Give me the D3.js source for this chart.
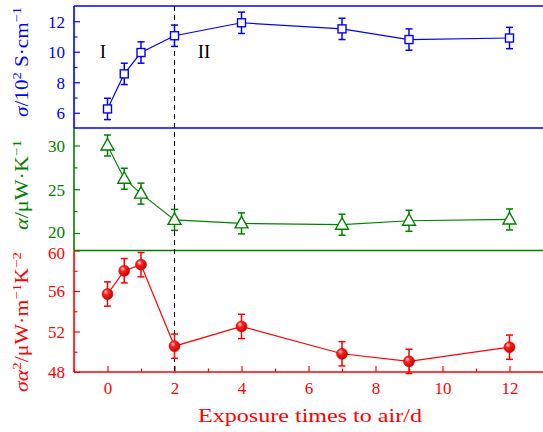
<!DOCTYPE html>
<html><head><meta charset="utf-8">
<script src="https://cdn.jsdelivr.net/npm/d3@7"></script>
<style>body{margin:0;background:#fff}svg{display:block}text{font-family:"Liberation Serif","DejaVu Serif",serif}</style>
</head><body>
<svg id="c" width="543" height="432"></svg>
<script>
const days = [0, 0.5, 1, 2, 4, 7, 9, 12];
const sigma = [6.25, 8.55, 9.95, 11.05, 11.9, 11.5, 10.8, 10.9];
const sigmaErr = [0.7, 0.7, 0.7, 0.7, 0.7, 0.7, 0.7, 0.7];
const alpha = [30.0, 26.2, 24.5, 21.5, 21.1, 20.95, 21.4, 21.55];
const alphaErr = [1.2, 1.2, 1.2, 1.2, 1.2, 1.2, 1.2, 1.2];
const pf = [55.7, 58.0, 58.6, 50.55, 52.5, 49.8, 49.05, 50.45];
const pfErr = [1.2, 1.2, 1.2, 1.2, 1.2, 1.2, 1.2, 1.2];
const xTicks = [0, 2, 4, 6, 8, 10, 12];
const sigmaTicks = [6, 8, 10, 12];
const alphaTicks = [20, 25, 30];
const pfTicks = [48, 52, 56, 60];

const svg = d3.select("#c");
const L = 74, R = 543;
const x = d3.scaleLinear().domain([-1, 13]).range([L, R]);
const yS = d3.scaleLinear().domain([5, 13]).range([128, 6]);
const yA = d3.scaleLinear().domain([18, 32]).range([250.5, 128]);
const yP = d3.scaleLinear().domain([48, 60]).range([372, 250.5]);
const BLUE = "#0000ff", GREEN = "#008000", RED = "#ff0000";

const defs = svg.append("defs");
const g = defs.append("radialGradient").attr("id","ball").attr("cx","0.4").attr("cy","0.4").attr("r","0.65").attr("fx","0.35").attr("fy","0.3");
g.append("stop").attr("offset","0").attr("stop-color","#ffe0e0");
g.append("stop").attr("offset","0.35").attr("stop-color","#ff2020");
g.append("stop").attr("offset","1").attr("stop-color","#c00000");

function leftAxis(y, ticks, minors, color, top, bottom) {
  const ax = svg.append("g").attr("transform", `translate(${L},0)`)
    .call(d3.axisRight(y).tickValues(ticks).tickSize(6).tickFormat(d3.format("d")));
  ax.select(".domain").remove();
  ax.selectAll("line").attr("stroke", color).attr("stroke-width", 1.2);
  ax.selectAll("text").attr("x", -9).attr("text-anchor", "end").attr("fill", color)
    .attr("font-size", 17).attr("dy", "0.35em");
  const mx = svg.append("g").attr("transform", `translate(${L},0)`)
    .call(d3.axisRight(y).tickValues(minors).tickSize(3.5).tickFormat(""));
  mx.select(".domain").remove();
  mx.selectAll("line").attr("stroke", color).attr("stroke-width", 1.2);
  svg.append("line").attr("x1", L).attr("x2", L).attr("y1", top).attr("y2", bottom)
    .attr("stroke", color).attr("stroke-width", 1.6);
  return ax;
}

leftAxis(yS, sigmaTicks, [7, 9, 11], BLUE, 6, 128);
const axA = leftAxis(yA, alphaTicks, [22.5, 27.5], GREEN, 128, 250.5);
const axP = leftAxis(yP, pfTicks, [50, 54, 58], RED, 250.5, 372);
axA.selectAll("text").filter(d => d === 20).attr("dy", "0.25em");
axP.selectAll("text").filter(d => d === 60).attr("dy", "0.45em");
svg.append("line").attr("x1", L).attr("x2", R).attr("y1", 6).attr("y2", 6).attr("stroke", BLUE).attr("stroke-width", 1.6);
svg.append("line").attr("x1", L).attr("x2", R).attr("y1", 128).attr("y2", 128).attr("stroke", BLUE).attr("stroke-width", 1.6);
svg.append("line").attr("x1", L).attr("x2", R).attr("y1", 250.5).attr("y2", 250.5).attr("stroke", GREEN).attr("stroke-width", 1.6);

const xa = svg.append("g").attr("transform", "translate(0,372)")
  .call(d3.axisTop(x).tickValues(xTicks).tickSize(6).tickFormat(d3.format("d")));
xa.select(".domain").remove();
xa.selectAll("line").attr("stroke", RED).attr("stroke-width", 1.2);
xa.selectAll("text").attr("y", 22).attr("fill", RED).attr("font-size", 17).attr("dy", 0);
const xm = svg.append("g").attr("transform", "translate(0,372)")
  .call(d3.axisTop(x).tickValues([-1, 1, 3, 5, 7, 9, 11]).tickSize(3.5).tickFormat(""));
xm.select(".domain").remove();
xm.selectAll("line").attr("stroke", RED).attr("stroke-width", 1.2);
svg.append("line").attr("x1", L).attr("x2", R).attr("y1", 372).attr("y2", 372).attr("stroke", RED).attr("stroke-width", 1.6);

svg.append("line").attr("x1", x(2)).attr("x2", x(2)).attr("y1", 6).attr("y2", 372)
  .attr("stroke", "#000").attr("stroke-width", 1.1).attr("stroke-dasharray", "5,4");

svg.append("text").attr("x", 103).attr("y", 58).attr("text-anchor", "middle").attr("font-size", 19).text("I");
svg.append("text").attr("x", 204).attr("y", 58).attr("text-anchor", "middle").attr("font-size", 19).text("II");

function series(vals, errs, y, color) {
  const grp = svg.append("g");
  grp.append("path").datum(days.map((d, i) => [d, vals[i]]))
    .attr("fill", "none").attr("stroke", color).attr("stroke-width", 1.2)
    .attr("d", d3.line().x(d => x(d[0])).y(d => y(d[1])));
  days.forEach((d, i) => {
    const cx = x(d), y1 = y(vals[i] + errs[i]), y2 = y(vals[i] - errs[i]);
    grp.append("line").attr("x1", cx).attr("x2", cx).attr("y1", y1).attr("y2", y2).attr("stroke", color).attr("stroke-width", 1.5);
    [y1, y2].forEach(yy => grp.append("line").attr("x1", cx - 3.5).attr("x2", cx + 3.5).attr("y1", yy).attr("y2", yy).attr("stroke", color).attr("stroke-width", 1.5));
  });
  return grp;
}

const gS = series(sigma, sigmaErr, yS, BLUE);
gS.selectAll(".m").data(days).enter().append("rect")
  .attr("x", (d) => x(d) - 4).attr("y", (d, i) => yS(sigma[i]) - 4).attr("width", 8).attr("height", 8)
  .attr("fill", "#fff").attr("stroke", BLUE).attr("stroke-width", 1.4);

const gA = series(alpha, alphaErr, yA, GREEN);
gA.selectAll(".m").data(days).enter().append("path")
  .attr("transform", (d, i) => `translate(${x(d)},${yA(alpha[i])})`)
  .attr("d", "M0,-7 L6.5,4.5 L-6.5,4.5 Z")
  .attr("fill", "#fff").attr("stroke", GREEN).attr("stroke-width", 1.4);

const gP = series(pf, pfErr, yP, RED);
gP.selectAll(".m").data(days).enter().append("circle")
  .attr("cx", (d) => x(d)).attr("cy", (d, i) => yP(pf[i])).attr("r", 5.5)
  .attr("fill", "url(#ball)").attr("stroke", "#e00000").attr("stroke-width", 0.6);

function ylab(cx, cy, len, color, parts) {
  const t = svg.append("text").attr("transform", `translate(${cx},${cy}) rotate(-90)`)
    .attr("text-anchor", "middle").attr("fill", color).attr("font-size", 19)
    .attr("textLength", len).attr("lengthAdjust", "spacingAndGlyphs");
  parts.forEach(p => {
    const s = t.append("tspan").text(p[0]);
    if (p[1] === "i") s.attr("font-style", "italic");
    if (p[1] === "sup") s.attr("font-size", 13).attr("dy", -7);
    if (p[1] === "down") s.attr("dy", 7);
  });
}
ylab(28, 62, 110, BLUE, [["σ", "i"], ["/10", ""], ["2", "sup"], [" S·cm", "down"], ["−1", "sup"]]);
ylab(28, 185, 90, GREEN, [["α", "i"], ["/μW·K", ""], ["−1", "sup"]]);
ylab(28, 322, 140, RED, [["σα", "i"], ["2", "sup"], ["/μW·m", "down"], ["−1", "sup"], ["K", "down"], ["−2", "sup"]]);

svg.append("text").attr("x", 310).attr("y", 422).attr("text-anchor", "middle").attr("fill", RED)
  .attr("font-size", 19).attr("textLength", 224).attr("lengthAdjust", "spacingAndGlyphs")
  .text("Exposure times to air/d");
</script>
</body></html>
